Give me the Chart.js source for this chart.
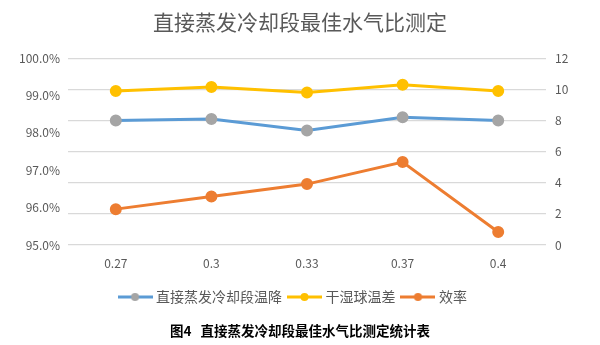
<!DOCTYPE html>
<html><head><meta charset="utf-8">
<script src="https://cdn.jsdelivr.net/npm/chart.js@4.4.1/dist/chart.umd.min.js"></script>
<style>
html,body{margin:0;padding:0;background:#fff;}
#wrap{position:relative;width:600px;height:345px;}
#caption{position:absolute;left:0;top:321px;width:600px;text-align:center;font-family:"Noto Sans CJK SC";font-weight:bold;font-size:13.5px;line-height:18px;color:#000;}
#caption span{margin-right:9px;}
</style></head>
<body>
<div id="wrap">
<canvas id="c" width="600" height="345"></canvas>
<div id="caption"><span>图4</span>直接蒸发冷却段最佳水气比测定统计表</div>
</div>
<script>
const categories = ['0.27','0.3','0.33','0.37','0.4'];
const tempDrop = [8.0, 8.1, 7.35, 8.2, 8.0];
const wetDryDiff = [9.9, 10.15, 9.8, 10.3, 9.9];
const efficiency = [95.96, 96.3, 96.63, 97.22, 95.35];
const seriesNames = ['直接蒸发冷却段温降','干湿球温差','效率'];
const titleText = '直接蒸发冷却段最佳水气比测定';

const FONT = '"Noto Sans CJK SC", "Noto Sans", sans-serif';

function legendIcon(lineColor, dotColor){
  const cv = document.createElement('canvas');
  cv.width = 35; cv.height = 10;
  const g = cv.getContext('2d');
  g.strokeStyle = lineColor; g.lineWidth = 3; g.lineCap = 'butt';
  g.beginPath(); g.moveTo(0,5); g.lineTo(35,5); g.stroke();
  g.fillStyle = dotColor;
  g.beginPath(); g.arc(17.5,5,4,0,Math.PI*2); g.fill();
  return cv;
}
const icons = [legendIcon('#5B9BD5','#A5A5A5'), legendIcon('#FFC000','#FFC000'), legendIcon('#ED7D31','#ED7D31')];

const shiftLegend = {
  id: 'shiftLegend',
  afterLayout(chart){
    if (chart.legend){ chart.legend.left -= 6; chart.legend.right -= 6; }
  }
};

new Chart(document.getElementById('c'), {
  type: 'line',
  plugins: [shiftLegend],
  data: {
    labels: categories,
    datasets: [
      {label: seriesNames[0], data: tempDrop, yAxisID: 'y1', borderColor:'#5B9BD5', backgroundColor:'#A5A5A5', pointBackgroundColor:'#A5A5A5', pointBorderColor:'#A5A5A5', borderWidth:3, pointRadius:4.5, tension:0},
      {label: seriesNames[1], data: wetDryDiff, yAxisID: 'y1', borderColor:'#FFC000', backgroundColor:'#FFC000', pointBackgroundColor:'#FFC000', pointBorderColor:'#FFC000', borderWidth:3, pointRadius:4.5, tension:0},
      {label: seriesNames[2], data: efficiency, yAxisID: 'y', borderColor:'#ED7D31', backgroundColor:'#ED7D31', pointBackgroundColor:'#ED7D31', pointBorderColor:'#ED7D31', borderWidth:3, pointRadius:4.5, tension:0}
    ]
  },
  options: {
    responsive: false,
    animation: false,
    layout: {padding: {left: 0, right: 0, top: 0, bottom: 31}},
    plugins: {
      title: {display: true, text: titleText, color:'#595959', font:{family: FONT, size: 21, weight: 'normal'}, padding:{top:9, bottom:24}},
      legend: {
        position: 'bottom',
        labels: {
          usePointStyle: true, pointStyleWidth: 28, padding: 8.5,
          color:'#595959', font:{family: FONT, size: 14},
          generateLabels(chart){
            return chart.data.datasets.map((ds,i)=>({
              text: ds.label, pointStyle: icons[i], fillStyle: ds.borderColor, strokeStyle: ds.borderColor,
              lineWidth: 0, hidden: false, datasetIndex: i, fontColor:'#595959'
            }));
          }
        }
      },
      tooltip: {enabled: false}
    },
    scales: {
      x: {
        offset: true,
        grid: {display: false, drawTicks: false},
        border: {display: false},
        ticks: {color:'#595959', font:{family: FONT, size: 12}, padding: 11},
        afterFit(s){ s.height = 36.5; }
      },
      y: {
        position: 'left', min: 95, max: 100,
        grid: {display: false, drawTicks: false},
        border: {display: false},
        ticks: {stepSize: 1, color:'#595959', font:{family: FONT, size: 12}, padding: 8,
          callback: v => v.toFixed(1) + '%'},
        afterFit(s){ s.width = 68; }
      },
      y1: {
        position: 'right', min: 0, max: 12,
        grid: {color:'#D9D9D9', lineWidth: 1.3, drawTicks: false},
        border: {display: false},
        ticks: {stepSize: 2, color:'#595959', font:{family: FONT, size: 12}, padding: 9},
        afterFit(s){ s.width = 54; }
      }
    }
  }
});
</script>
</body></html>
